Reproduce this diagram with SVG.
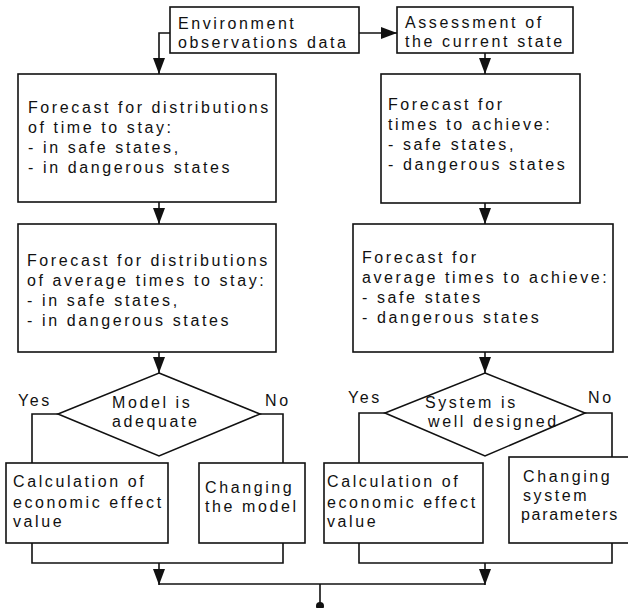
<svg xmlns="http://www.w3.org/2000/svg" width="628" height="608" viewBox="0 0 628 608">
<style>
.box{fill:#fff;stroke:#111;stroke-width:1.6}
.t{font-family:"Liberation Sans",Arial,sans-serif;font-size:16px;letter-spacing:2.6px;fill:#111}
.c{fill:none;stroke:#111;stroke-width:1.6}
.a{marker-end:url(#ah)}
</style>
<defs>
<marker id="ah" viewBox="0 0 16 12" refX="16" refY="6" markerWidth="16" markerHeight="12" markerUnits="userSpaceOnUse" orient="auto">
<path d="M0,0 L16,6 L0,12 z" fill="#111"/>
</marker>
</defs>
<rect width="628" height="608" fill="#fff"/>
<g id="connectors">
<path class="c a" d="M170,33 H159 V74"/>
<path class="c a" d="M359,33 H397"/>
<path class="c a" d="M485,53 V74"/>
<path class="c a" d="M159,202 V224"/>
<path class="c a" d="M485,203 V224"/>
<path class="c a" d="M159,352 V373"/>
<path class="c a" d="M485,352 V373"/>
<path class="c" d="M58,414 H32 V463"/>
<path class="c" d="M260,414 H283 V463"/>
<path class="c" d="M385,413 H359 V463"/>
<path class="c" d="M585,413 H612 V457"/>
<path class="c" d="M32,543 V563 H283 V543"/>
<path class="c" d="M359,543 V563 H612 V543"/>
<path class="c a" d="M159,563 V585"/>
<path class="c a" d="M485,563 V585"/>
<path class="c" d="M159,584 H485"/>
<path class="c" d="M320,584 V604"/>
<circle cx="320" cy="606" r="4" fill="#111"/>
</g>
<g id="env">
<rect class="box" x="170" y="7" width="189" height="46"/>
<text class="t" x="178" y="29">Environment</text>
<text class="t" x="178" y="48">observations data</text>
</g>
<g id="assess">
<rect class="box" x="397" y="7" width="176" height="46"/>
<text class="t" x="405" y="28">Assessment of</text>
<text class="t" x="405" y="47">the current state</text>
</g>
<g id="left1">
<rect class="box" x="18" y="74" width="258" height="128"/>
<text class="t" x="28" y="113">Forecast for distributions</text>
<text class="t" x="28" y="133">of time to stay:</text>
<text class="t" x="28" y="153">- in safe states,</text>
<text class="t" x="28" y="173">- in dangerous states</text>
</g>
<g id="right1">
<rect class="box" x="381" y="74" width="199" height="129"/>
<text class="t" x="388" y="110">Forecast for</text>
<text class="t" x="388" y="130">times to achieve:</text>
<text class="t" x="388" y="150">- safe states,</text>
<text class="t" x="388" y="170">- dangerous states</text>
</g>
<g id="left2">
<rect class="box" x="18" y="224" width="258" height="128"/>
<text class="t" x="27" y="266">Forecast for distributions</text>
<text class="t" x="27" y="286">of  average times to stay:</text>
<text class="t" x="27" y="306">- in safe states,</text>
<text class="t" x="27" y="326">- in dangerous states</text>
</g>
<g id="right2">
<rect class="box" x="353" y="224" width="260" height="128"/>
<text class="t" x="362" y="263">Forecast for</text>
<text class="t" x="362" y="283">average times to achieve:</text>
<text class="t" x="362" y="303">- safe states</text>
<text class="t" x="362" y="323">- dangerous states</text>
</g>
<g id="decision-model">
<polygon class="box" points="159,373 260,414 159,456 58,414"/>
<text class="t" x="112" y="408">Model is</text>
<text class="t" x="112" y="427">adequate</text>
<text class="t" x="18" y="406">Yes</text>
<text class="t" x="265" y="406">No</text>
</g>
<g id="decision-system">
<polygon class="box" points="485,373 585,413 485,456 385,413"/>
<text class="t" x="425" y="408">System is</text>
<text class="t" x="428" y="427">well designed</text>
<text class="t" x="348" y="403">Yes</text>
<text class="t" x="588" y="403">No</text>
</g>
<g id="calc-left">
<rect class="box" x="6" y="463" width="162" height="80"/>
<text class="t" x="13" y="487">Calculation of</text>
<text class="t" x="13" y="508">economic effect</text>
<text class="t" x="13" y="527">value</text>
</g>
<g id="change-model">
<rect class="box" x="199" y="463" width="106" height="80"/>
<text class="t" x="205" y="493">Changing</text>
<text class="t" x="205" y="512">the model</text>
</g>
<g id="calc-right">
<rect class="box" x="324" y="463" width="159" height="80"/>
<text class="t" x="327" y="487">Calculation of</text>
<text class="t" x="327" y="508">economic effect</text>
<text class="t" x="327" y="527">value</text>
</g>
<g id="change-system">
<rect class="box" x="509" y="457" width="130" height="86"/>
<text class="t" x="523" y="482">Changing</text>
<text class="t" x="523" y="501">system</text>
<text class="t" x="521" y="520" style="letter-spacing:1.7px">parameters</text>
</g>
</svg>
